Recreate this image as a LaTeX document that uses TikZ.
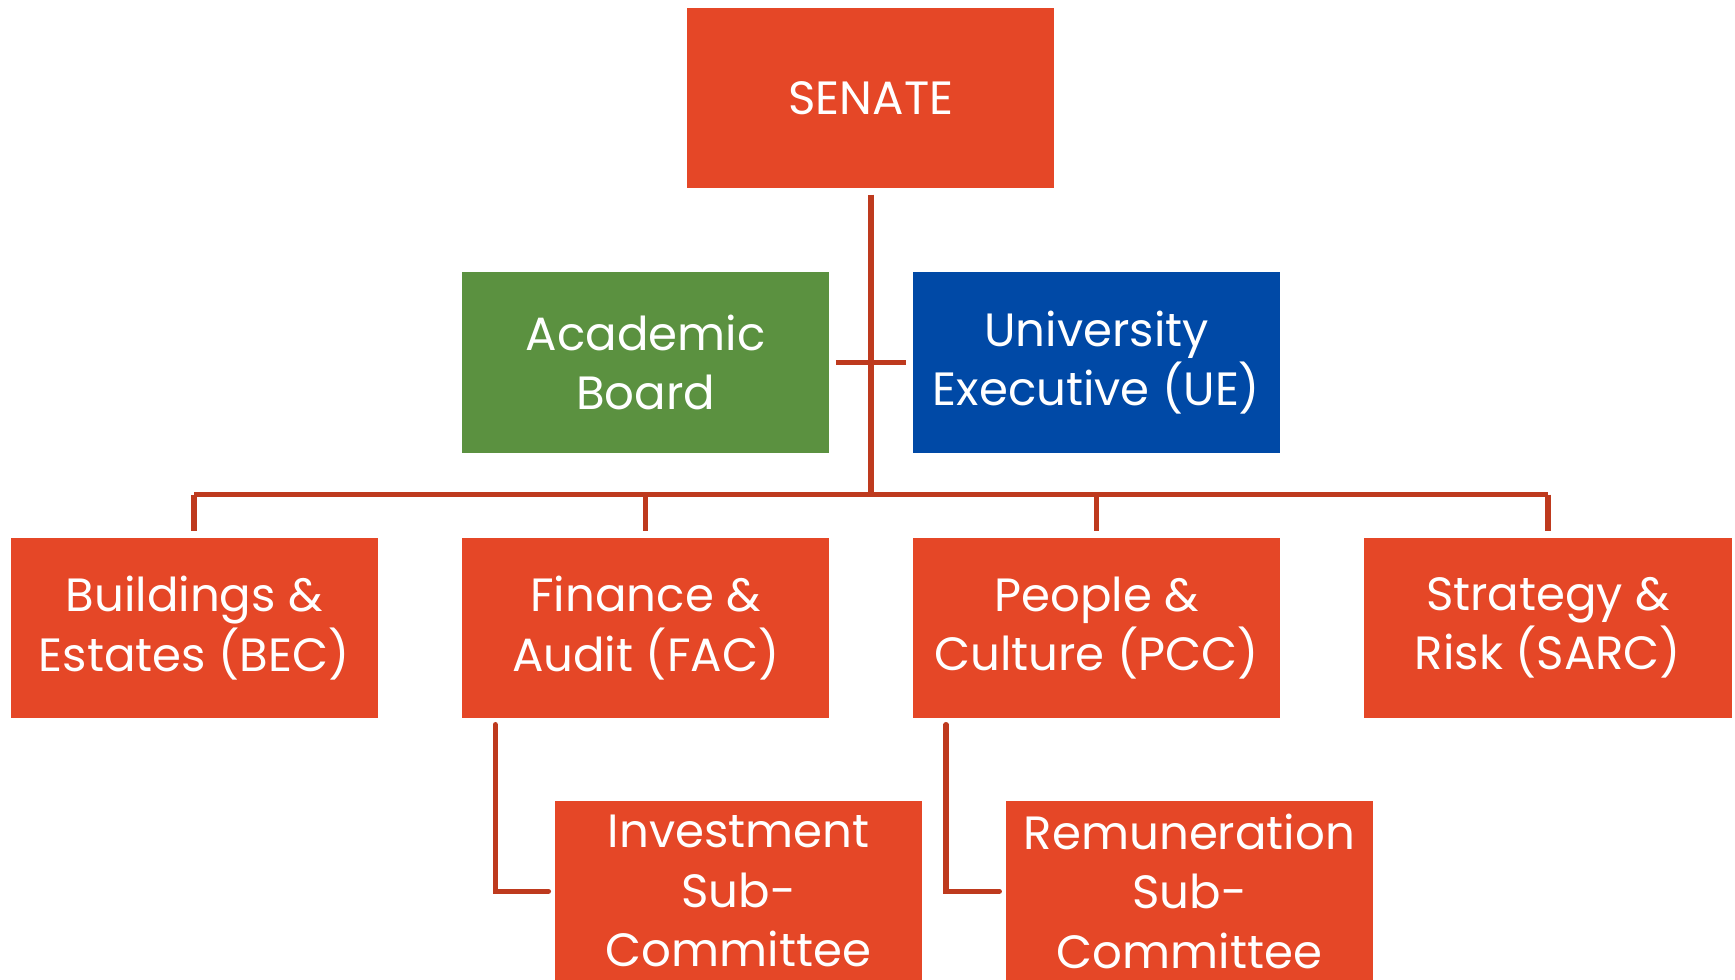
\documentclass[tikz,border=0pt]{standalone}
\usepackage{fontspec}
\setmainfont{Poppins}
\usetikzlibrary{calc}
\definecolor{boxred}{HTML}{E54727}
\definecolor{boardgreen}{HTML}{5B9140}
\definecolor{execblue}{HTML}{0049A6}
\definecolor{linkred}{HTML}{BE3A1E}

\begin{document}
\begin{tikzpicture}[x=0.02cm, y=-0.02cm,
		box/.style={fill=boxred, text=white, minimum width=6.64cm, minimum height=3.26cm,
			align=center, inner sep=0pt, outer sep=3.4pt, font=\fontsize{24}{30.6}\selectfont},
		link/.style={draw=linkred, line width=2.8pt}]
		\clip (0,0) rectangle (1568,885);
		\node[box] (senate) at (787,88.5) {SENATE};
		\node[box, fill=boardgreen] (acad) at (583.5,327.5) {Academic\\Board};
		\node[box, fill=execblue] (exec) at (991,327.5) {University\\Executive (UE)};
		\def\myCommittees{bec/175.5/Buildings \&\\Estates (BEC), fac/583.5/Finance \&\\Audit (FAC), pcc/991/People \&\\Culture (PCC), sarc/1399/Strategy \&\\Risk (SARC)}
		\foreach \name/\x/\txt in \myCommittees
		\node[box] (\name) at (\x,567.5) {\txt};
		\node[box] (inv) at (667.5,805.5) {Investment\\Sub-\\Committee};
		\node[box] (rem) at (1075,805.5) {Remuneration\\Sub-\\Committee};
		\draw[link] (senate.south) -- (787,447);
		\draw[link] (acad.east) -- (exec.west);
		\draw[link] (bec.north |- 0,447) -- (sarc.north |- 0,447);
		\foreach \name in {bec, fac, pcc, sarc}
		\draw[link] (\name.north |- 0,447) -- (\name.north);
		\draw[link, line cap=round] ($(fac.south west)+(36,0)$) |- (inv.west);
		\draw[link, line cap=round] ($(pcc.south west)+(36,0)$) |- (rem.west);
	\end{tikzpicture}
\end{document}
